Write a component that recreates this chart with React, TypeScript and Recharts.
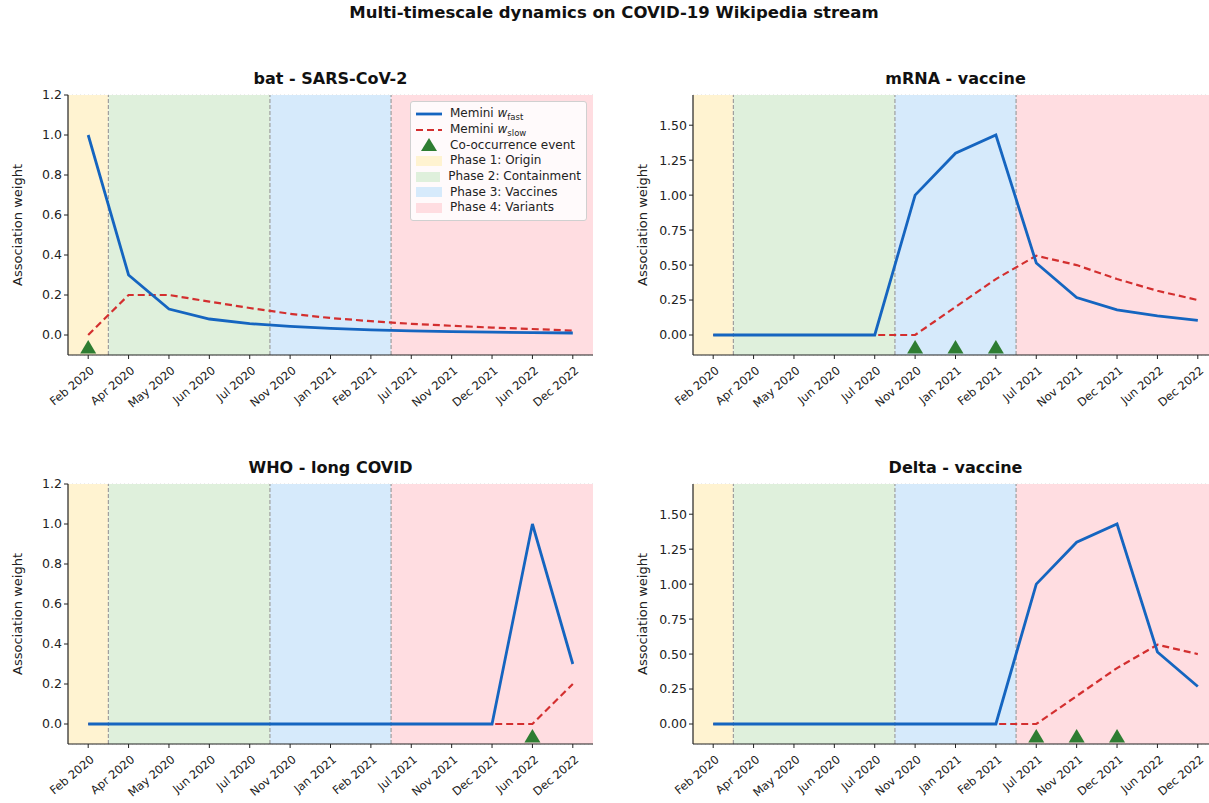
import React from 'react';
import {
  ComposedChart, Line, Scatter, XAxis, YAxis, CartesianGrid, ReferenceArea, ReferenceLine,
} from 'recharts';

// tick labels (one per step of the stream)
const months = [
  'Feb 2020', 'Apr 2020', 'May 2020', 'Jun 2020', 'Jul 2020', 'Nov 2020', 'Jan 2021',
  'Feb 2021', 'Jul 2021', 'Nov 2021', 'Dec 2021', 'Jun 2022', 'Dec 2022',
];

// bat - SARS-CoV-2
const batFast = [1.0, 0.3, 0.13, 0.08, 0.057, 0.043, 0.033, 0.026, 0.021, 0.017, 0.014, 0.012, 0.01];
const batSlow = [0.0, 0.2, 0.2, 0.167, 0.135, 0.106, 0.085, 0.069, 0.056, 0.046, 0.037, 0.03, 0.022];
const batEvents = [0];

// mRNA - vaccine
const mrnaFast = [0, 0, 0, 0, 0, 1.0, 1.3, 1.43, 0.515, 0.268, 0.18, 0.136, 0.104];
const mrnaSlow = [0, 0, 0, 0, 0, 0, 0.2, 0.4, 0.567, 0.5, 0.4, 0.316, 0.25];
const mrnaEvents = [5, 6, 7];

// WHO - long COVID
const whoFast = [0, 0, 0, 0, 0, 0, 0, 0, 0, 0, 0, 1.0, 0.3];
const whoSlow = [0, 0, 0, 0, 0, 0, 0, 0, 0, 0, 0, 0, 0.2];
const whoEvents = [11];

// Delta - vaccine
const deltaFast = [0, 0, 0, 0, 0, 0, 0, 0, 1.0, 1.3, 1.43, 0.515, 0.268];
const deltaSlow = [0, 0, 0, 0, 0, 0, 0, 0, 0, 0.2, 0.4, 0.567, 0.5];
const deltaEvents = [8, 9, 10];

// phase spans in step units
const phases = [
  { name: 'Phase 1: Origin', from: -0.5, to: 0.5, color: '#FFF3D1' },
  { name: 'Phase 2: Containment', from: 0.5, to: 4.5, color: '#DFF0DC' },
  { name: 'Phase 3: Vaccines', from: 4.5, to: 7.5, color: '#D6EAFB' },
  { name: 'Phase 4: Variants', from: 7.5, to: 12.5, color: '#FFDDE1' },
];
const boundaries = [0.5, 4.5, 7.5];

const BLUE = '#1565C0';
const RED = '#D32F2F';
const GREEN = '#2E7D32';
const FONT = '"DejaVu Sans", Verdana, sans-serif';

const PLOT_W = 525;
const PLOT_H = 260;
const M_LEFT = 60;
const M_TOP = 10;
const X_H = 70;

const XTick = (props: any) => {
  const { x, y, payload } = props;
  return (
    <g transform={`translate(${x},${y + 6})`}>
      <text textAnchor="end" fontSize={11.5} fontFamily={FONT} fill="#222" transform="rotate(-40)" dy={8} dx={2}>
        {months[payload.value]}
      </text>
    </g>
  );
};

const Triangle = (props: any) => {
  const { cx, cy } = props;
  const s = 8;
  return <polygon points={`${cx},${cy - s} ${cx - s},${cy + s * 0.7} ${cx + s},${cy + s * 0.7}`} fill={GREEN} />;
};

interface PanelProps {
  title: string;
  fast: number[];
  slow: number[];
  events: number[];
  left: number;
  top: number;
  ticks: number[];
  digits: number;
  legend?: boolean;
}

const rowStyle: React.CSSProperties = { display: 'flex', alignItems: 'center', height: 15.7 };

const Panel: React.FC<PanelProps> = ({ title, fast, slow, events, left, top, ticks, digits, legend }) => {
  const max = Math.max(...fast);
  const data = months.map((m, i) => ({ idx: i, fast: fast[i], slow: slow[i] }));
  const evData = events.map((i) => ({ idx: i, ev: -0.065 * max }));

  return (
    <>
      <div
        style={{
          position: 'absolute', left, top: top - 26, width: PLOT_W, textAlign: 'center',
          fontFamily: FONT, fontWeight: 'bold', fontSize: 16, color: '#111',
        }}
      >
        {title}
      </div>
      <div
        style={{
          position: 'absolute', left: left - 50 - 75, top: top + PLOT_H / 2 - 10, width: 150, height: 20,
          textAlign: 'center', fontFamily: FONT, fontSize: 13, color: '#222', transform: 'rotate(-90deg)',
          lineHeight: '20px',
        }}
      >
        Association weight
      </div>
      <div style={{ position: 'absolute', left: left - M_LEFT, top: top - M_TOP }}>
        <ComposedChart
          width={PLOT_W + M_LEFT + 10}
          height={PLOT_H + M_TOP + X_H}
          data={data}
          margin={{ top: M_TOP, right: 10, left: 0, bottom: 0 }}
        >
          {phases.map((p) => (
            <ReferenceArea key={p.name} x1={p.from} x2={p.to} y1={-0.1 * max} y2={1.2 * max} fill={p.color} fillOpacity={1} stroke="none" ifOverflow="hidden" />
          ))}
          <CartesianGrid vertical={false} stroke="#C8C8C8" strokeDasharray="1 3" strokeOpacity={0.7} />
          {boundaries.map((b) => (
            <ReferenceLine key={b} x={b} stroke="#9E9E9E" strokeDasharray="4 2" strokeWidth={1.2} />
          ))}
          <XAxis
            dataKey="idx"
            type="number"
            domain={[-0.5, 12.5]}
            ticks={months.map((m, i) => i)}
            interval={0}
            height={X_H}
            tick={<XTick />}
            tickLine={{ stroke: '#222' }}
            axisLine={{ stroke: '#222', strokeWidth: 1.2 }}
            tickSize={4}
            allowDataOverflow
          />
          <YAxis
            type="number"
            domain={[-0.1 * max, 1.2 * max]}
            ticks={ticks}
            width={M_LEFT}
            tickFormatter={(v: number) => v.toFixed(digits)}
            tick={{ fontSize: 12.5, fontFamily: FONT, fill: '#222' }}
            tickLine={{ stroke: '#222' }}
            axisLine={{ stroke: '#222', strokeWidth: 1.2 }}
            tickSize={4}
            allowDataOverflow
          />
          <Line dataKey="slow" stroke={RED} strokeWidth={2.2} strokeDasharray="7 4" dot={false} isAnimationActive={false} />
          <Line dataKey="fast" stroke={BLUE} strokeWidth={2.8} dot={false} isAnimationActive={false} />
          <Scatter data={evData} dataKey="ev" shape={<Triangle />} isAnimationActive={false} />
        </ComposedChart>
      </div>
      {legend && (
        <div
          style={{
            position: 'absolute', left: left + PLOT_W - 183, top: top + 6, width: 177,
            background: 'rgba(255,255,255,0.85)', border: '1px solid #D0D0D0', borderRadius: 3,
            fontFamily: FONT, fontSize: 12, color: '#222', padding: '4px 5px', boxSizing: 'border-box',
            lineHeight: '15px', whiteSpace: 'nowrap',
          }}
        >
          <div style={rowStyle}>
            <svg width={26} height={10} style={{ marginRight: 8 }}><line x1={0} y1={5} x2={26} y2={5} stroke={BLUE} strokeWidth={2.8} /></svg>
            <span>Memini <i>w</i><sub style={{ fontSize: 8.5, lineHeight: 0 }}>fast</sub></span>
          </div>
          <div style={rowStyle}>
            <svg width={26} height={10} style={{ marginRight: 8 }}><line x1={0} y1={5} x2={26} y2={5} stroke={RED} strokeWidth={2.2} strokeDasharray="7 4" /></svg>
            <span>Memini <i>w</i><sub style={{ fontSize: 8.5, lineHeight: 0 }}>slow</sub></span>
          </div>
          <div style={rowStyle}>
            <svg width={26} height={14} style={{ marginRight: 8 }}><polygon points="13,0 5,13 21,13" fill={GREEN} /></svg>
            <span>Co-occurrence event</span>
          </div>
          {phases.map((p) => (
            <div key={p.name} style={rowStyle}>
              <div style={{ width: 26, height: 10, background: p.color, marginRight: 8 }} />
              <span>{p.name}</span>
            </div>
          ))}
        </div>
      )}
    </>
  );
};

const leftTicks = [0, 0.2, 0.4, 0.6, 0.8, 1.0, 1.2];
const rightTicks = [0, 0.25, 0.5, 0.75, 1.0, 1.25, 1.5];

const App: React.FC = () => {
  return (
    <div style={{ position: 'absolute', left: 0, top: 0, width: 1209, height: 803, overflow: 'hidden', background: '#fff' }}>
      <div
        style={{
          position: 'absolute', left: 0, top: 3, width: 1228, textAlign: 'center',
          fontFamily: FONT, fontWeight: 'bold', fontSize: 16.5, color: '#111',
        }}
      >
        Multi-timescale dynamics on COVID-19 Wikipedia stream
      </div>
      <Panel title="bat - SARS-CoV-2" fast={batFast} slow={batSlow} events={batEvents} left={68} top={95} ticks={leftTicks} digits={1} legend />
      <Panel title="mRNA - vaccine" fast={mrnaFast} slow={mrnaSlow} events={mrnaEvents} left={693} top={95} ticks={rightTicks} digits={2} />
      <Panel title="WHO - long COVID" fast={whoFast} slow={whoSlow} events={whoEvents} left={68} top={484} ticks={leftTicks} digits={1} />
      <Panel title="Delta - vaccine" fast={deltaFast} slow={deltaSlow} events={deltaEvents} left={693} top={484} ticks={rightTicks} digits={2} />
    </div>
  );
};

export default App;
